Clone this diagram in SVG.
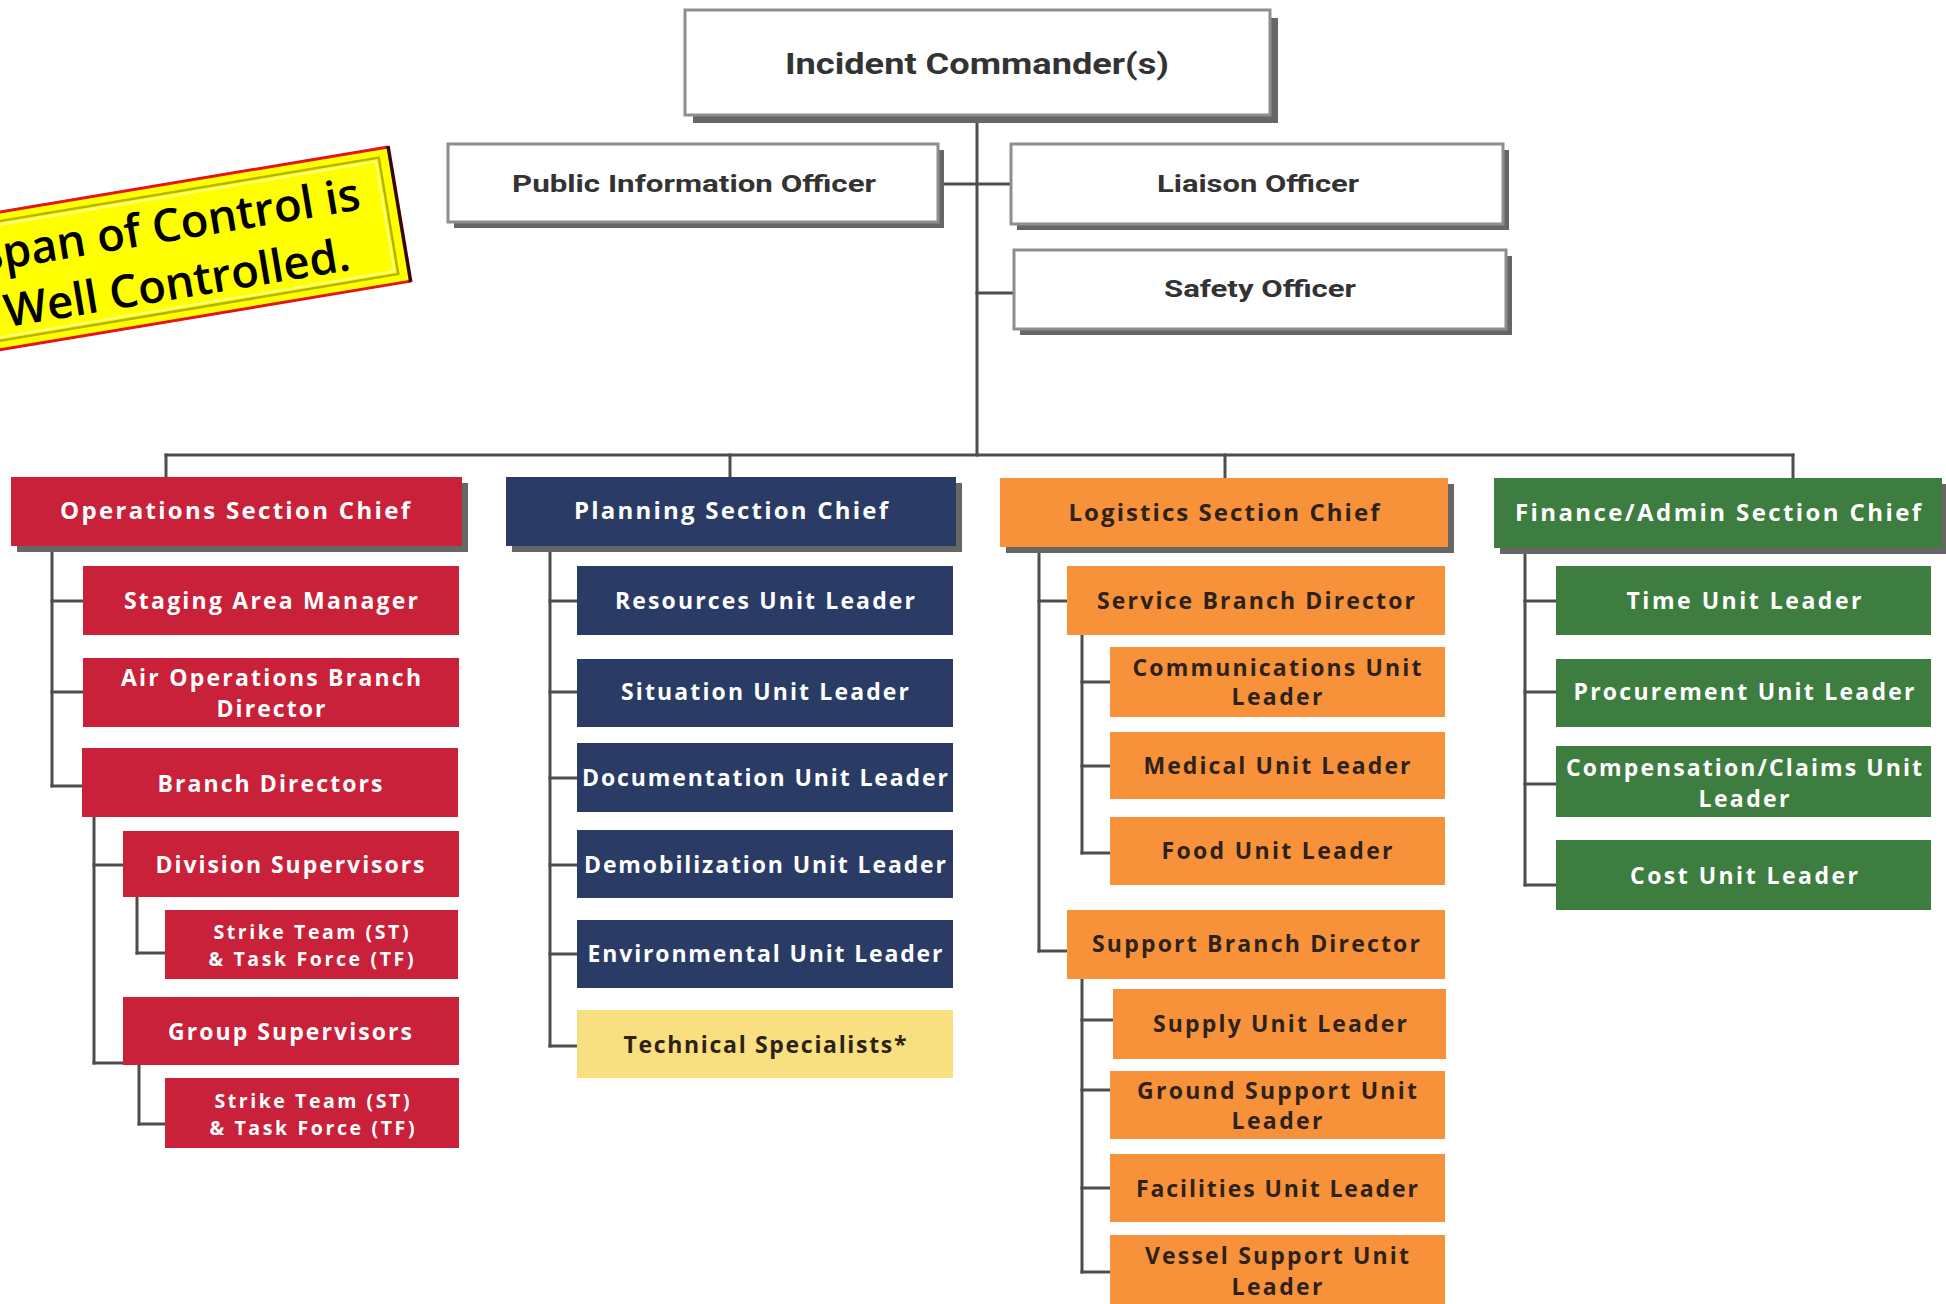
<svg xmlns="http://www.w3.org/2000/svg" width="1946" height="1304" viewBox="0 0 1946 1304">
<style>
.bg{fill:#ffffff}
.off{fill:#ffffff;stroke:#8e8e8e;stroke-width:3}
.sh{fill:#666666}
.red{fill:#c9213a}
.navy{fill:#2a3b65}
.org{fill:#f7923b}
.grn{fill:#3e7d40}
.ylw{fill:#f8df80}
.conn line{stroke:#4d4d4d;stroke-width:3;stroke-linecap:square}
text{font-family:"Open Sans","DejaVu Sans",sans-serif;font-weight:700;text-anchor:middle}
.w{fill:#ffffff;font-size:23px}
.d{fill:#2e2218;font-size:23px}
.sec{font-size:24px}
.sm{font-size:19.5px}
.o{fill:#333333;font-family:Roboto,"Open Sans",sans-serif;font-weight:700}
.call{font-family:"Open Sans","DejaVu Sans",sans-serif;font-weight:600;font-size:45.5px;fill:#000000;text-anchor:end}
</style>
<rect class="bg" x="0" y="0" width="1946" height="1304"/>

<g id="connectors" class="conn">
  <line x1="977" y1="115" x2="977" y2="455"/>
  <line x1="938" y1="184" x2="1011" y2="184"/>
  <line x1="977" y1="293" x2="1014" y2="293"/>
  <line x1="166" y1="455" x2="1793" y2="455"/>
  <line x1="166" y1="455" x2="166" y2="477"/>
  <line x1="730" y1="455" x2="730" y2="477"/>
  <line x1="1225" y1="455" x2="1225" y2="478"/>
  <line x1="1793" y1="455" x2="1793" y2="478"/>
  <!-- operations -->
  <line x1="52" y1="546" x2="52" y2="786"/>
  <line x1="52" y1="601" x2="83" y2="601"/>
  <line x1="52" y1="692" x2="83" y2="692"/>
  <line x1="52" y1="786" x2="82" y2="786"/>
  <line x1="94" y1="817" x2="94" y2="1063"/>
  <line x1="94" y1="865" x2="123" y2="865"/>
  <line x1="94" y1="1063" x2="123" y2="1063"/>
  <line x1="137" y1="897" x2="137" y2="953"/>
  <line x1="137" y1="953" x2="165" y2="953"/>
  <line x1="139" y1="1065" x2="139" y2="1124"/>
  <line x1="139" y1="1124" x2="165" y2="1124"/>
  <!-- planning -->
  <line x1="550" y1="546" x2="550" y2="1046"/>
  <line x1="550" y1="601" x2="577" y2="601"/>
  <line x1="550" y1="692" x2="577" y2="692"/>
  <line x1="550" y1="778" x2="577" y2="778"/>
  <line x1="550" y1="865" x2="577" y2="865"/>
  <line x1="550" y1="954" x2="577" y2="954"/>
  <line x1="550" y1="1046" x2="577" y2="1046"/>
  <!-- logistics -->
  <line x1="1039" y1="547" x2="1039" y2="951"/>
  <line x1="1039" y1="601" x2="1067" y2="601"/>
  <line x1="1039" y1="951" x2="1067" y2="951"/>
  <line x1="1082" y1="635" x2="1082" y2="853"/>
  <line x1="1082" y1="682" x2="1110" y2="682"/>
  <line x1="1082" y1="766" x2="1110" y2="766"/>
  <line x1="1082" y1="853" x2="1110" y2="853"/>
  <line x1="1082" y1="979" x2="1082" y2="1272"/>
  <line x1="1082" y1="1020" x2="1113" y2="1020"/>
  <line x1="1082" y1="1090" x2="1110" y2="1090"/>
  <line x1="1082" y1="1188" x2="1110" y2="1188"/>
  <line x1="1082" y1="1272" x2="1110" y2="1272"/>
  <!-- finance -->
  <line x1="1525" y1="550" x2="1525" y2="885"/>
  <line x1="1525" y1="601" x2="1556" y2="601"/>
  <line x1="1525" y1="692" x2="1556" y2="692"/>
  <line x1="1525" y1="784" x2="1556" y2="784"/>
  <line x1="1525" y1="885" x2="1556" y2="885"/>
</g>

<!-- command staff -->
<g id="incident-commander">
  <rect class="sh" x="693" y="18" width="585" height="105"/>
  <rect class="off" x="685" y="10" width="585" height="105"/>
  <text class="o" x="977" y="74" font-size="29" textLength="384" lengthAdjust="spacingAndGlyphs">Incident Commander(s)</text>
</g>
<g id="public-information-officer">
  <rect class="sh" x="454" y="150" width="490" height="78"/>
  <rect class="off" x="448" y="144" width="490" height="78"/>
  <text class="o" x="694" y="192" font-size="24" textLength="364" lengthAdjust="spacingAndGlyphs">Public Information Officer</text>
</g>
<g id="liaison-officer">
  <rect class="sh" x="1017" y="150" width="492" height="80"/>
  <rect class="off" x="1011" y="144" width="492" height="80"/>
  <text class="o" x="1258" y="192" font-size="24" textLength="202" lengthAdjust="spacingAndGlyphs">Liaison Officer</text>
</g>
<g id="safety-officer">
  <rect class="sh" x="1020" y="256" width="492" height="79"/>
  <rect class="off" x="1014" y="250" width="492" height="79"/>
  <text class="o" x="1260" y="297" font-size="24" textLength="192" lengthAdjust="spacingAndGlyphs">Safety Officer</text>
</g>

<!-- section chiefs -->
<g id="operations-section-chief">
  <rect class="sh" x="17" y="483" width="451" height="69"/>
  <rect class="red" x="11" y="477" width="451" height="69"/>
  <text class="w sec" x="235" y="519" textLength="350">Operations Section Chief</text>
</g>
<g id="planning-section-chief">
  <rect class="sh" x="512" y="483" width="450" height="69"/>
  <rect class="navy" x="506" y="477" width="450" height="69"/>
  <text class="w sec" x="731" y="519" textLength="314">Planning Section Chief</text>
</g>
<g id="logistics-section-chief">
  <rect class="sh" x="1006" y="484" width="448" height="69"/>
  <rect class="org" x="1000" y="478" width="448" height="69"/>
  <text class="d sec" x="1224" y="521" textLength="311">Logistics Section Chief</text>
</g>
<g id="finance-admin-section-chief">
  <rect class="sh" x="1500" y="484" width="448" height="70"/>
  <rect class="grn" x="1494" y="478" width="448" height="70"/>
  <text class="w sec" x="1718" y="521" textLength="406">Finance/Admin Section Chief</text>
</g>

<!-- operations units -->
<g id="staging-area-manager">
  <rect class="red" x="83" y="566" width="376" height="69"/>
  <text class="w" x="271" y="609" textLength="294">Staging Area Manager</text>
</g>
<g id="air-operations-branch-director">
  <rect class="red" x="83" y="658" width="376" height="69"/>
  <text class="w" x="271" y="686" textLength="300">Air Operations Branch</text>
  <text class="w" x="271" y="717" textLength="109">Director</text>
</g>
<g id="branch-directors">
  <rect class="red" x="82" y="748" width="376" height="69"/>
  <text class="w" x="270" y="792" textLength="225">Branch Directors</text>
</g>
<g id="division-supervisors">
  <rect class="red" x="123" y="831" width="336" height="66"/>
  <text class="w" x="290" y="873" textLength="269">Division Supervisors</text>
</g>
<g id="strike-team-division">
  <rect class="red" x="165" y="910" width="293" height="69"/>
  <text class="w sm" x="311" y="939" textLength="195">Strike Team (ST)</text>
  <text class="w sm" x="311" y="966" textLength="205">&amp; Task Force (TF)</text>
</g>
<g id="group-supervisors">
  <rect class="red" x="123" y="997" width="336" height="68"/>
  <text class="w" x="290" y="1040" textLength="244">Group Supervisors</text>
</g>
<g id="strike-team-group">
  <rect class="red" x="165" y="1078" width="294" height="70"/>
  <text class="w sm" x="312" y="1108" textLength="195">Strike Team (ST)</text>
  <text class="w sm" x="312" y="1135" textLength="205">&amp; Task Force (TF)</text>
</g>

<!-- planning units -->
<g id="resources-unit-leader">
  <rect class="navy" x="577" y="566" width="376" height="69"/>
  <text class="w" x="765" y="609" textLength="300">Resources Unit Leader</text>
</g>
<g id="situation-unit-leader">
  <rect class="navy" x="577" y="659" width="376" height="68"/>
  <text class="w" x="765" y="700" textLength="288">Situation Unit Leader</text>
</g>
<g id="documentation-unit-leader">
  <rect class="navy" x="577" y="743" width="376" height="69"/>
  <text class="w" x="765" y="786" textLength="366">Documentation Unit Leader</text>
</g>
<g id="demobilization-unit-leader">
  <rect class="navy" x="577" y="830" width="376" height="68"/>
  <text class="w" x="765" y="873" textLength="362">Demobilization Unit Leader</text>
</g>
<g id="environmental-unit-leader">
  <rect class="navy" x="577" y="920" width="376" height="68"/>
  <text class="w" x="765" y="962" textLength="355">Environmental Unit Leader</text>
</g>
<g id="technical-specialists">
  <rect class="ylw" x="577" y="1010" width="376" height="68"/>
  <text class="d" x="765" y="1053" textLength="283">Technical Specialists*</text>
</g>

<!-- logistics units -->
<g id="service-branch-director">
  <rect class="org" x="1067" y="566" width="378" height="69"/>
  <text class="d" x="1256" y="609" textLength="318">Service Branch Director</text>
</g>
<g id="communications-unit-leader">
  <rect class="org" x="1110" y="647" width="335" height="70"/>
  <text class="d" x="1277" y="676" textLength="289">Communications Unit</text>
  <text class="d" x="1277" y="705" textLength="91">Leader</text>
</g>
<g id="medical-unit-leader">
  <rect class="org" x="1110" y="732" width="335" height="67"/>
  <text class="d" x="1277" y="774" textLength="267">Medical Unit Leader</text>
</g>
<g id="food-unit-leader">
  <rect class="org" x="1110" y="817" width="335" height="68"/>
  <text class="d" x="1277" y="859" textLength="231">Food Unit Leader</text>
</g>
<g id="support-branch-director">
  <rect class="org" x="1067" y="910" width="378" height="69"/>
  <text class="d" x="1256" y="952" textLength="328">Support Branch Director</text>
</g>
<g id="supply-unit-leader">
  <rect class="org" x="1113" y="989" width="333" height="70"/>
  <text class="d" x="1280" y="1032" textLength="254">Supply Unit Leader</text>
</g>
<g id="ground-support-unit-leader">
  <rect class="org" x="1110" y="1071" width="335" height="68"/>
  <text class="d" x="1277" y="1099" textLength="280">Ground Support Unit</text>
  <text class="d" x="1277" y="1129" textLength="91">Leader</text>
</g>
<g id="facilities-unit-leader">
  <rect class="org" x="1110" y="1154" width="335" height="68"/>
  <text class="d" x="1277" y="1197" textLength="282">Facilities Unit Leader</text>
</g>
<g id="vessel-support-unit-leader">
  <rect class="org" x="1110" y="1235" width="335" height="75"/>
  <text class="d" x="1277" y="1264" textLength="264">Vessel Support Unit</text>
  <text class="d" x="1277" y="1295" textLength="91">Leader</text>
</g>

<!-- finance units -->
<g id="time-unit-leader">
  <rect class="grn" x="1556" y="566" width="375" height="69"/>
  <text class="w" x="1744" y="609" textLength="235">Time Unit Leader</text>
</g>
<g id="procurement-unit-leader">
  <rect class="grn" x="1556" y="659" width="375" height="68"/>
  <text class="w" x="1744" y="700" textLength="341">Procurement Unit Leader</text>
</g>
<g id="compensation-claims-unit-leader">
  <rect class="grn" x="1556" y="746" width="375" height="71"/>
  <text class="w" x="1744" y="776" textLength="356">Compensation/Claims Unit</text>
  <text class="w" x="1744" y="807" textLength="91">Leader</text>
</g>
<g id="cost-unit-leader">
  <rect class="grn" x="1556" y="840" width="375" height="70"/>
  <text class="w" x="1744" y="884" textLength="228">Cost Unit Leader</text>
</g>

<!-- callout -->
<g id="callout" transform="translate(388,146) rotate(-9.5)">
  <rect x="-560" y="0" width="560" height="138" fill="#ffff00"/>
  <rect x="-560" y="10" width="549" height="118" fill="none" stroke="#b5b500" stroke-width="2.5"/>
  <rect x="-560" y="13.5" width="545.5" height="111" fill="none" stroke="#ffff90" stroke-width="2"/>
  <line x1="-560" y1="1" x2="0" y2="1" stroke="#e3141c" stroke-width="3"/>
  <line x1="-560" y1="137" x2="0" y2="137" stroke="#e3141c" stroke-width="3"/>
  <line x1="0" y1="0" x2="0" y2="138" stroke="#3a0500" stroke-width="3.5"/>
  <text class="call" x="-36" y="58">Span of Control is</text>
  <text class="call" x="-56" y="116">Well Controlled.</text>
</g>
</svg>
